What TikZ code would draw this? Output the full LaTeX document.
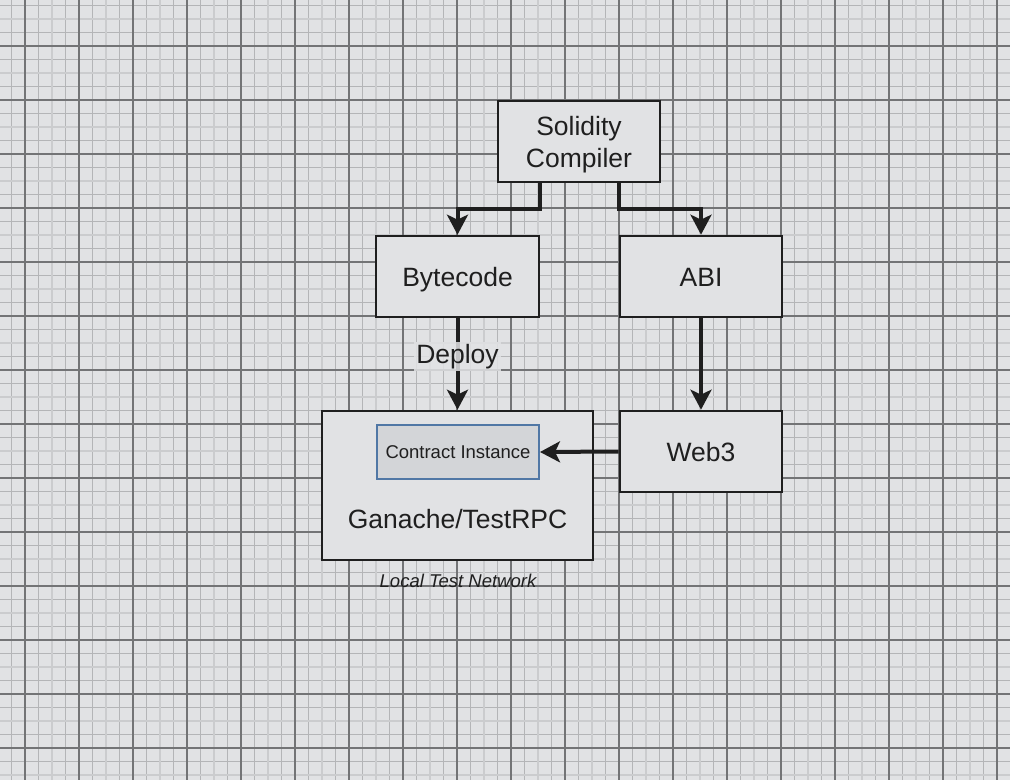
\documentclass[tikz,border=0pt]{standalone}
\usepackage{fontspec}
\setmainfont{Liberation Sans}
\usetikzlibrary{arrows.meta,calc}
\definecolor{bg}{HTML}{E1E2E4}
\definecolor{gminor}{HTML}{B4B5B7}
\definecolor{gmed}{HTML}{CBCCCE}
\definecolor{gmajor}{HTML}{737476}
\definecolor{ink}{HTML}{1F1F1F}
\definecolor{ciblue}{HTML}{5077A5}
\definecolor{cifill}{HTML}{D3D5D8}
\tikzset{
  box/.style={draw=ink,line width=2.6pt,fill=bg,inner sep=0pt,
    minimum width=162pt,minimum height=81pt},
  cibox/.style={draw=ciblue,line width=2pt,fill=cifill,inner sep=0pt,
    minimum width=162pt,minimum height=54pt,text=ink,
    font=\fontsize{18.5}{22}\selectfont},
  conn/.style={draw=ink,line width=4pt,
    -{Stealth[length=20pt,width=21pt,inset=5pt]}},
  lbl/.style={text=ink,align=center,font=\fontsize{26.5}{32}\selectfont},
  boxtxt/.style={label={[lbl,yshift=-3pt]center:#1}},
  onetxt/.style={label={[lbl,inner sep=0pt,text height=19pt,text depth=0pt]center:#1}},
}
\begin{document}
\begin{tikzpicture}[x=1pt,y=-1pt]
\useasboundingbox (0,0) rectangle (1010,780);
\fill[bg] (0,0) rectangle (1010,780);
% grid
\foreach \i in {-2,...,74} \draw[gminor,line width=0.8pt] ({25+13.5*\i},0) -- ++(0,780);
\foreach \i in {-4,...,55} \draw[gminor,line width=0.8pt] (0,{46+13.5*\i}) -- ++(1010,0);
\foreach \i in {-1,...,18} \draw[gmed,line width=2pt] ({52+54*\i},0) -- ++(0,780);
\foreach \i in {-2,...,13} \draw[gmed,line width=2pt] (0,{73+54*\i}) -- ++(1010,0);
\foreach \i in {-1,...,18} \draw[gmajor,line width=1.1pt] ({25+54*\i},0) -- ++(0,780);
\foreach \i in {-1,...,14} \draw[gmajor,line width=1.1pt] (0,{46+54*\i}) -- ++(1010,0);
% nodes
\node[box,boxtxt={Solidity\\Compiler}] (sol) at (579,141.5) {};
\node[box,minimum width=163pt,onetxt=Bytecode] (byte) at (457.5,276.5) {};
\node[box,onetxt=ABI] (abi) at (701,276.5) {};
\node[box,onetxt=Web3] (web) at (701,451.5) {};
\node[box,minimum width=271pt,minimum height=149pt] (gan) at (457.5,485.5) {};
\node[cibox] (ci) at (458,452) {Contract Instance};
\node[lbl] (gantxt) at (457.5,519.5) {Ganache/TestRPC};
\node[text=ink,font=\fontsize{18.5}{22}\selectfont\itshape] (ltn) at (458,580.5) {Local Test Network};
% connectors
\draw[conn] (sol.south -| byte.east) -- ++(0,26) -| (byte.north);
\draw[conn] (sol.south -| abi.west) -- ++(0,26) -| (abi.north);
\draw[conn] (byte.south) -- node[pos=0.42,lbl,fill=bg,fill opacity=0.85,text opacity=1,inner sep=2pt] (dep) {Deploy} (gan.north);
\draw[conn] (abi.south) -- (web.north);
\draw[conn] (web.west) -- (ci.east);
\end{tikzpicture}
\end{document}
